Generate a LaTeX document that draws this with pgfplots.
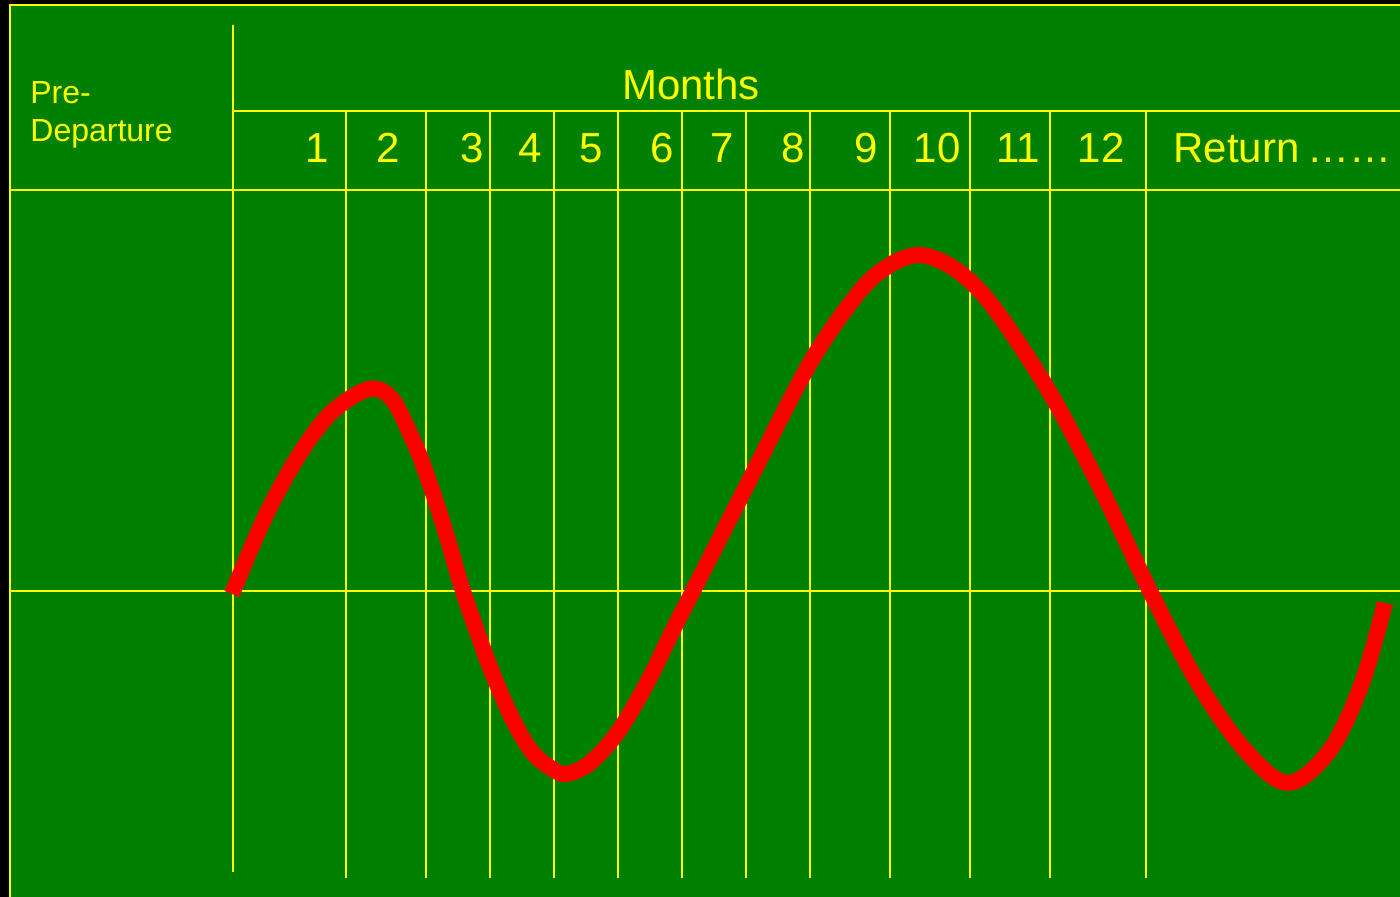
\documentclass[border=0pt]{standalone}
\usepackage{pgfplots}
\pgfplotsset{compat=1.18}
\usepackage{fontspec}
\setmainfont{Liberation Sans}
\definecolor{bggreen}{RGB}{0,128,0}
\definecolor{yel}{RGB}{255,255,0}
\definecolor{rd}{RGB}{255,0,0}
\begin{document}
\begin{tikzpicture}
\begin{axis}[
  scale only axis, width=700pt, height=448.5pt,
  xmin=0, xmax=1400, ymin=0, ymax=897, y dir=reverse,
  hide axis, clip=true,
]
\fill[black] (axis cs:0,0) rectangle (axis cs:1400,897);
\fill[bggreen] (axis cs:10,5) rectangle (axis cs:1400,897);
% borders
\addplot[yel, line width=1.2pt] coordinates {(10,897) (10,5) (1400,5)};
% horizontal lines
\addplot[yel, line width=1pt] coordinates {(233,111) (1400,111)};
\addplot[yel, line width=1pt] coordinates {(10,190) (1400,190)};
\addplot[yel, line width=1pt] coordinates {(10,591) (1400,591)};
% vertical lines
\addplot[yel, line width=1pt] coordinates {(233,25) (233,872)};
\foreach \xx in {346,426,490,554,618,682,746,810,890,970,1050,1146}{
  \edef\temp{\noexpand\addplot[yel, line width=1pt] coordinates {(\xx,111) (\xx,878)};}
  \temp
}
% curve
\addplot[rd, line width=8pt, smooth, tension=0.55] coordinates {
(232,594) (265,517) (299,455) (332,412) (369,389) (392,399) (412,438)
(425,470) (445,530) (463,591) (490,667) (513,720) (533,753) (554,770)
(567,774) (590,763) (618,732) (647,683) (673,630) (693,591)
(746,487) (810,363) (860,291) (890,265) (917,255)
(943,262) (970,281) (1000,316) (1050,393) (1100,487) (1150,591)
(1198,683) (1245,750) (1288,783) (1330,750) (1362,683) (1385,603)
};
% texts
\node[yel, anchor=base, font=\fontsize{21}{26}\selectfont] at (axis cs:691,100) {Months};
\node[yel, anchor=base west, font=\fontsize{16}{19}\selectfont, inner sep=0pt] at (axis cs:30,104) {Pre-};
\node[yel, anchor=base west, font=\fontsize{16}{19}\selectfont, inner sep=0pt] at (axis cs:30,142) {Departure};
\foreach \xx/\lab in {317/1,388/2,472/3,530/4,591/5,662/6,722/7,793/8,866/9,937/10,1018/11,1101/12}{
  \edef\temp{\noexpand\node[yel, anchor=base, font=\noexpand\fontsize{21}{26}\noexpand\selectfont] at (axis cs:\xx,163) {\lab};}
  \temp
}
\node[yel, anchor=base west, inner sep=0pt, font=\fontsize{21}{26}\selectfont] at (axis cs:1173,163) {Return\hspace{0.2em}……};
\end{axis}
\end{tikzpicture}
\end{document}
